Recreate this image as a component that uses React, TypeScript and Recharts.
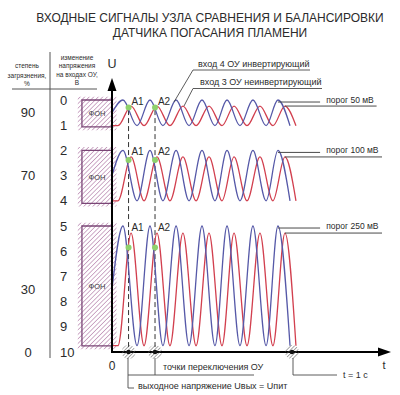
import React from "react";
import { ComposedChart, Line, XAxis, YAxis, ReferenceArea, ReferenceLine, ReferenceDot } from "recharts";

// моменты экстремумов, с — вход 4 ОУ (инвертирующий)
const invTimes = [0, 0.061, 0.139, 0.211, 0.283, 0.356, 0.428, 0.5, 0.572, 0.639, 0.711, 0.783, 0.856, 0.922, 0.989];
// вход 3 ОУ (неинвертирующий)
const nonInvTimes = [0, 0.033, 0.106, 0.178, 0.25, 0.322, 0.394, 0.467, 0.539, 0.611, 0.678, 0.75, 0.822, 0.894, 0.961, 1.022];

// три степени загрязнения: вершины, впадины, В
const invPeak = [0, 2, 5];
const nonInvPeak = [0.24, 2.26, 5.28];
const trough = [1.02, 4, 9.75];
const invStart = [0.5, 3, 7.5];
const thresholds = ["порог 50 мВ", "порог 100 мВ", "порог 250 мВ"];

// фон
const fonTop = [0, 2, 5];
const fonBottom = [1.07, 4.1, 9.76];

// точки переключения ОУ
const switchNames = ["A1", "A2"];
const switchTimes = [0.092, 0.239];
const crossU = [0.3, 2.38, 5.85];

const uTicks = [0, 1, 2, 3, 4, 5, 6, 7, 8, 9, 10];
const pctTicks = [0.5, 3, 7.5, 10];
const pctLabels = ["90", "70", "30", "0"];

const invSeries = invPeak.map((_, b) =>
  invTimes.map((t, i) => ({ t, u: i === 0 ? invStart[b] : i % 2 === 1 ? invPeak[b] : trough[b] }))
);
const nonInvSeries = nonInvPeak.map((_, b) =>
  nonInvTimes.map((t, i) => ({ t, u: i > 1 && i % 2 === 0 ? nonInvPeak[b] : trough[b] }))
);

const FONT = "'Liberation Sans', Arial, sans-serif";
const BLUE = "#5659a8";
const RED = "#d2404f";
const INK = "#2b2b2b";
const LINE = "#4a4a4a";

const lowerEnd = [1.47, 1.5, 1.5];

function UTick(p: any) {
  return (
    <text x={60} y={p.y} dy={4.5} fontSize={13} fill={INK} fontFamily={FONT}>
      {p.payload.value}
    </text>
  );
}

function PctTick(p: any) {
  const i = pctTicks.indexOf(p.payload.value);
  return (
    <text x={28} y={p.y} dy={4.5} fontSize={13} fill={INK} fontFamily={FONT} textAnchor="middle">
      {pctLabels[i]}
    </text>
  );
}

const textAt = (label: string, size: number, anchor: "start" | "middle") => (p: any) =>
  (
    <text x={p.cx} y={p.cy} dy={size * 0.35} fontSize={size} fill={INK} fontFamily={FONT} textAnchor={anchor}>
      {label}
    </text>
  );

const arrowUp = (p: any) => (
  <polygon points={`${p.cx},${p.cy} ${p.cx - 4.5},${p.cy + 13} ${p.cx + 4.5},${p.cy + 13}`} fill="#000" />
);
const arrowRight = (p: any) => (
  <polygon points={`${p.cx},${p.cy} ${p.cx - 13},${p.cy - 4.5} ${p.cx - 13},${p.cy + 4.5}`} fill="#000" />
);
const marker = (p: any) => (
  <g>
    <circle cx={p.cx} cy={p.cy} r={7} fill="url(#markHatch)" />
    <circle cx={p.cx} cy={p.cy} r={2.3} fill="#111" />
  </g>
);

export default function App() {
  return (
    <div style={{ position: "absolute", left: 0, top: 0, width: 400, height: 395, background: "#fff" }}>
      <svg width={400} height={395} style={{ position: "absolute", left: 0, top: 0 }}>
        <defs>
          <pattern id="fonHatch" width="3.2" height="3.2" patternUnits="userSpaceOnUse" patternTransform="rotate(45)">
            <line x1="0" y1="0" x2="0" y2="3.2" stroke="#b682ad" strokeWidth="1.3" />
          </pattern>
          <pattern id="markHatch" width="2.6" height="2.6" patternUnits="userSpaceOnUse" patternTransform="rotate(45)">
            <line x1="0" y1="0" x2="0" y2="2.6" stroke="#555" strokeWidth="1" />
          </pattern>
        </defs>
      </svg>
      <ComposedChart
        width={400}
        height={395}
        margin={{ top: 74.8, right: 7.2, bottom: 43, left: 16 }}
        style={{ position: "absolute", left: 0, top: 0 }}
      >
        <XAxis type="number" dataKey="t" domain={[-0.2, 1.56]} allowDataOverflow hide />
        <YAxis
          type="number"
          domain={[-1, 10]}
          reversed
          allowDataOverflow
          ticks={uTicks}
          interval={0}
          width={20}
          axisLine={false}
          tickLine={false}
          tick={UTick}
        />
        <YAxis
          yAxisId="pct"
          type="number"
          domain={[-1, 10]}
          reversed
          allowDataOverflow
          ticks={pctTicks}
          interval={0}
          width={40}
          axisLine={false}
          tickLine={false}
          tick={PctTick}
        />

        {fonTop.map((top, b) => (
          <ReferenceArea
            key={"h" + b}
            x1={-0.19}
            x2={0.025}
            y1={top - 0.13}
            y2={fonBottom[b] + 0.13}
            fill="url(#fonHatch)"
            fillOpacity={1}
            stroke="none"
            ifOverflow="visible"
          />
        ))}
        {fonTop.map((top, b) => (
          <ReferenceArea
            key={"f" + b}
            x1={-0.167}
            x2={0}
            y1={top}
            y2={fonBottom[b]}
            fill="none"
            stroke="#7a4676"
            strokeWidth={1.3}
            ifOverflow="visible"
            label={{ value: "ФОН", position: "center", fontSize: 7.5, fill: "#444", fontFamily: FONT }}
          />
        ))}

        {switchTimes.map((t) => (
          <ReferenceLine
            key={"s" + t}
            segment={[{ x: t, y: crossU[0] + 0.1 }, { x: t, y: 10 }]}
            stroke="#333"
            strokeDasharray="5 3"
            strokeWidth={1}
            ifOverflow="visible"
          />
        ))}

        {nonInvSeries.map((d, b) => (
          <Line key={"r" + b} data={d} dataKey="u" type="monotone" stroke={RED} strokeWidth={1.3} dot={false} isAnimationActive={false} />
        ))}
        {invSeries.map((d, b) => (
          <Line key={"b" + b} data={d} dataKey="u" type="monotone" stroke={BLUE} strokeWidth={1.3} dot={false} isAnimationActive={false} />
        ))}

        {thresholds.map((label, b) => (
          <React.Fragment key={"p" + b}>
            <ReferenceLine
              segment={[{ x: invTimes[13], y: invPeak[b] + 0.08 }, { x: 1.156, y: invPeak[b] + 0.08 }]}
              stroke={LINE}
              strokeWidth={1}
              ifOverflow="visible"
            />
            <ReferenceLine
              segment={[{ x: nonInvTimes[14], y: nonInvPeak[b] }, { x: lowerEnd[b], y: nonInvPeak[b] }]}
              stroke={LINE}
              strokeWidth={1}
              ifOverflow="visible"
            />
            <ReferenceDot x={1.19} y={invPeak[b]} r={0} ifOverflow="visible" shape={textAt(label, 8.5, "start")} />
          </React.Fragment>
        ))}

        {crossU.map((u, b) =>
          switchTimes.map((t, k) => (
            <React.Fragment key={"c" + b + k}>
              <ReferenceDot x={t} y={u} r={3} fill="#8fd16c" stroke="none" ifOverflow="visible" />
              <ReferenceDot
                x={t + 0.05}
                y={invPeak[b] + 0.05}
                r={0}
                ifOverflow="visible"
                shape={textAt(switchNames[k], 10, "middle")}
              />
            </React.Fragment>
          ))
        )}

        <ReferenceLine segment={[{ x: 0, y: 10.04 }, { x: 0, y: -0.5 }]} stroke="#000" strokeWidth={2} ifOverflow="visible" />
        <ReferenceLine segment={[{ x: -0.005, y: 10 }, { x: 1.5, y: 10 }]} stroke="#000" strokeWidth={2} ifOverflow="visible" />
        <ReferenceDot x={0} y={-0.87} r={0} ifOverflow="visible" shape={arrowUp} />
        <ReferenceDot x={1.55} y={10} r={0} ifOverflow="visible" shape={arrowRight} />
        {[...switchTimes, 1].map((t) => (
          <ReferenceDot key={"m" + t} x={t} y={10} r={0} ifOverflow="visible" shape={marker} />
        ))}
      </ComposedChart>

      <svg
        width={400}
        height={395}
        style={{ position: "absolute", left: 0, top: 0, pointerEvents: "none" }}
        fontFamily={FONT}
        fill={INK}
      >
        <text x={210} y={21.5} fontSize={12} textAnchor="middle">
          ВХОДНЫЕ СИГНАЛЫ УЗЛА СРАВНЕНИЯ И БАЛАНСИРОВКИ
        </text>
        <text x={210} y={36.5} fontSize={12} textAnchor="middle">
          ДАТЧИКА ПОГАСАНИЯ ПЛАМЕНИ
        </text>

        <line x1={50} y1={52} x2={50} y2={358} stroke="#555" strokeWidth={1} />
        <line x1={12} y1={89} x2={97} y2={89} stroke="#555" strokeWidth={1} />
        <g fontSize={6.5} textAnchor="middle">
          <text x={27} y={67.5}>степень</text>
          <text x={27} y={77.5}>загрязнения,</text>
          <text x={27} y={85.5}>%</text>
          <text x={77} y={59.5}>изменение</text>
          <text x={77} y={68}>напряжения</text>
          <text x={77} y={76.5}>на входах ОУ,</text>
          <text x={77} y={84.5}>В</text>
        </g>

        <text x={112} y={68} fontSize={12.5} textAnchor="middle">U</text>
        <text x={384} y={369} fontSize={11} textAnchor="middle">t</text>
        <text x={112} y={369.5} fontSize={12} textAnchor="middle">0</text>

        <g fontSize={9}>
          <text x={198} y={66.5}>вход 4 ОУ инвертирующий</text>
          <text x={200} y={85}>вход 3 ОУ неинвертирующий</text>
          <text x={163} y={369.5}>точки переключения ОУ</text>
          <text x={138} y={389}>выходное напряжение Uвых = Uпит</text>
          <text x={343} y={377.5}>t = 1 c</text>
        </g>
        <g stroke={LINE} strokeWidth={0.9} fill="none">
          <polyline points="310,70 193,70 174,102" />
          <polyline points="322,88.5 193,88.5 184,106" />
          <polyline points="128,358 128,388 134,388" />
          <line x1={155} y1={358} x2={155} y2={375} />
          <line x1={128} y1={375} x2={254} y2={375} />
          <polyline points="293,358 293,375 337,375" />
        </g>
      </svg>
    </div>
  );
}
